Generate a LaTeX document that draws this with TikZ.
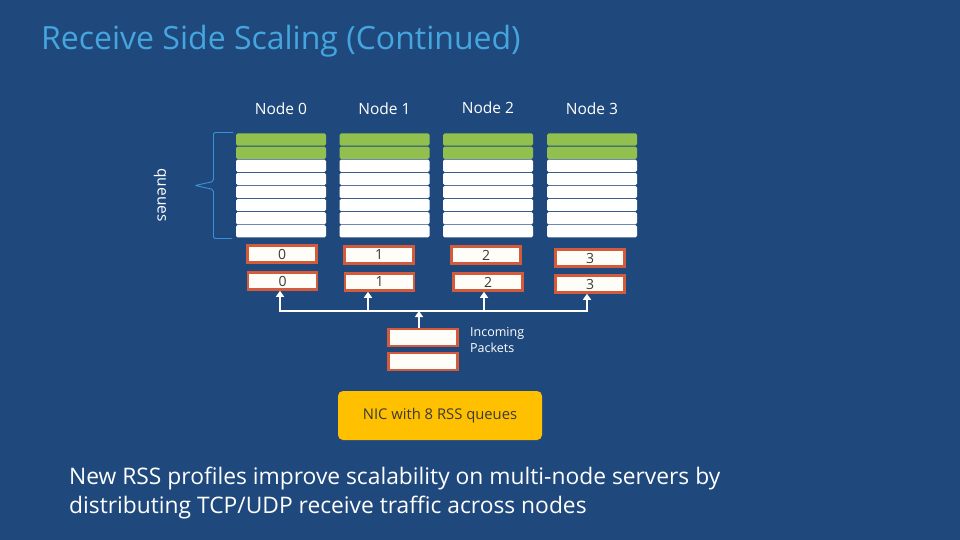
\documentclass[tikz,border=0pt]{standalone}
\usepackage{fontspec}
\setmainfont{Open Sans}
\usepackage{tikz}
\usetikzlibrary{arrows.meta,positioning,calc}
\definecolor{Slide}{HTML}{1F497D}
\definecolor{Title}{HTML}{45A5DE}
\definecolor{Brace}{HTML}{3F8FD6}
\definecolor{Leaf}{HTML}{92C04E}
\definecolor{Brick}{HTML}{D35A3A}
\definecolor{Cream}{HTML}{FFFDF8}
\definecolor{Nic}{HTML}{FFC000}
\definecolor{Ink}{HTML}{3A3A3A}

\tikzset{
  qbox/.style={draw=Brick,line width=2.6pt,fill=Cream,minimum width=69pt,minimum height=17pt,inner sep=0pt,font=\fontsize{14}{14}\selectfont\color{Ink}},
  bus/.style={draw=white,line width=2.2pt},
  busarrow/.style={draw=white,line width=2.2pt,-{Triangle[length=6pt,width=8pt]}}
}

\begin{document}
\begin{tikzpicture}[x=1pt,y=-1pt]
\path[use as bounding box] (0,0) rectangle (960,540);
\fill[Slide] (0,0) rectangle (960,540);
\node[anchor=base west,inner sep=0pt,font=\fontsize{32}{34}\selectfont\color{Title}] (title) at (41,50) {Receive Side Scaling (Continued)};

% node columns with queues
\foreach \i/\x/\ly in {0/236/109,1/339.5/109,2/443/108,3/547/109}{
  \node[font=\fontsize{15.5}{16}\selectfont\color{white}] (lbl\i) at (\x+45,\ly) {Node \i};
  \foreach \r in {0,...,7}{
    \pgfmathsetmacro{\yt}{133.5+13.1*\r}
    \ifnum\r<2
      \fill[Leaf,rounded corners=1.5pt] (\x,\yt) rectangle (\x+90,\yt+12.2);
    \else
      \fill[white,rounded corners=1.5pt] (\x,\yt) rectangle (\x+90,\yt+12.2);
    \fi
  }
}

% brace
\draw[Brace,line width=0.9pt,rounded corners=2pt] (233,132.5) -- (213.5,132.5) -- (213.5,181.5) -- (195,185.5) -- (213.5,189.5) -- (213.5,238.5) -- (232,238.5);
\node[rotate=-90,font=\fontsize{15.5}{16}\selectfont\color{white}] (qlbl) at (160,195) {queues};

% RSS queue boxes
\node[qbox] (a0) at (282,254) {0};
\node[qbox] (a1) at (379,255) {1};
\node[qbox] (a2) at (486,255) {2};
\node[qbox] (a3) at (590,258) {3};
\node[qbox] (b0) at (282.5,281) {0};
\node[qbox] (b1) at (379.5,282) {1};
\node[qbox] (b2) at (488,282) {2};
\node[qbox] (b3) at (590,284) {3};

% incoming packets
\node[qbox] (p1) at (423,337.5) {};
\node[qbox] (p2) at (423,361.5) {};
\node[anchor=north west,align=left,inner sep=0pt,font=\fontsize{12.5}{16}\selectfont\color{white}] (plbl) at (470,327) {Incoming\\Packets};

% bus
\coordinate (c0) at (280,311);
\coordinate (c1) at (368,311);
\coordinate (c2) at (484,311);
\coordinate (c3) at (587,311);
\coordinate (cm) at (419,311);
\draw[bus] ($(c0)+(-1.1,0)$) -- ($(c3)+(1.1,0)$);
\draw[busarrow] (c0) -- (c0 |- b0.south);
\draw[busarrow] (c1) -- (c1 |- b1.south);
\draw[busarrow] (c2) -- (c2 |- b2.south);
\draw[busarrow] (c3) -- (c3 |- b3.south);
\draw[busarrow] (cm |- p1.north) -- (cm);

% NIC
\node[fill=Nic,rounded corners=5pt,minimum width=204pt,minimum height=49pt,font=\fontsize{14.8}{16}\selectfont\color{Ink}] (nic) at (440,415.5) {NIC with 8 RSS queues};

\node[anchor=north west,align=left,inner sep=0pt,font=\fontsize{22.8}{29}\selectfont\color{white}] (note) at (69,467) {New RSS profiles improve scalability on multi-node servers by\\distributing TCP/UDP receive traffic across nodes};
\end{tikzpicture}
\end{document}
